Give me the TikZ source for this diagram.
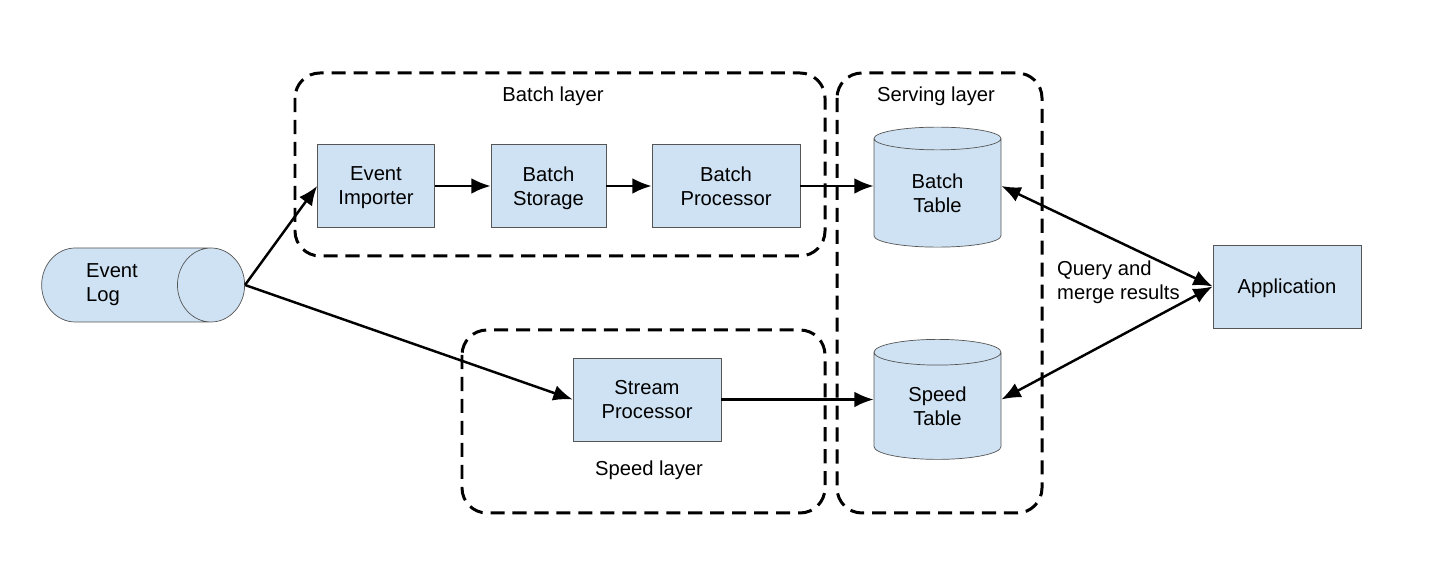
\documentclass[tikz,border=0pt]{standalone}
\usepackage{fontspec}
\setmainfont{Liberation Sans}
\usetikzlibrary{shapes.geometric,arrows.meta}

\definecolor{boxblue}{HTML}{CFE2F3}
\definecolor{boxborder}{HTML}{555555}

\begin{document}
\begin{tikzpicture}[
    font=\fontsize{11.5}{13.6}\selectfont,
    block/.style={rectangle, draw=boxborder, fill=boxblue, align=center,
                  minimum width=2.96cm, minimum height=1.66cm, inner sep=0pt,
                  text depth=0pt},
    store/.style={cylinder, shape border rotate=90, draw=boxborder, fill=boxblue,
                  align=center, minimum width=2.54cm, minimum height=2.4cm,
                  aspect=0.44, inner sep=0pt},
    logstore/.style={cylinder, draw=boxborder, fill=boxblue, align=left,
                     minimum width=1.48cm, minimum height=4.06cm,
                     aspect=1.6, inner sep=0pt, text width=1.6cm},
    layer/.style={draw, line width=1.7pt, dash pattern=on 8pt off 4.5pt,
                  rounded corners=0.5cm},
    flow/.style={-{Latex[length=11pt,width=9pt]}, line width=1.4pt},
    both/.style={{Latex[length=11pt,width=9pt]}-{Latex[length=11pt,width=9pt]},
                 line width=1.4pt},
    lbl/.style={font=\fontsize{11.5}{13.6}\selectfont},
]
\useasboundingbox (0,0) rectangle (28.72,11.24);

% --- Layer frames ---
\draw[layer] (5.9,9.78) rectangle (16.5,6.12);
\draw[layer] (9.24,4.64) rectangle (16.5,0.98);
\draw[layer] (16.74,9.78) rectangle (20.84,0.98);
\node[lbl] (blayer) at (11.06,9.32) {Batch layer};
\node[lbl] (slayer) at (12.98,1.84) {Speed layer};
\node[lbl] (vlayer) at (18.72,9.32) {Serving layer};

% --- Source ---
\node[logstore, anchor=east] (elog) at (4.9,5.54) {Event\\Log};

% --- Batch layer ---
\node[block, minimum width=2.34cm] (imp) at (7.52,7.52) {Event\\Importer};
\node[block, minimum width=2.3cm] (bstore) at (10.97,7.52) {Batch\\Storage};
\node[block] (bproc) at (14.52,7.52) {Batch\\Processor};

% --- Speed layer ---
\node[block] (sproc) at (12.94,3.25) {Stream\\Processor};

% --- Serving layer ---
\node[store] (btab) at (18.75,7.38) {Batch\\Table};
\node[store] (stab) at (18.75,3.12) {Speed\\Table};

% --- Application ---
\node[block] (app) at (25.74,5.51) {Application};
\node[lbl, align=left, anchor=west] (query) at (21.02,5.6) {Query and\\merge results};

% --- Connections ---
\draw[flow] (elog.east) -- (imp.west);
\draw[flow] (elog.east) -- (sproc.west);
\draw[flow] (imp) -- (bstore);
\draw[flow] (bstore) -- (bproc);
\draw[flow] (bproc.east) -- (bproc.east -| btab.west);
\draw[flow] (sproc.east) -- (sproc.east -| stab.west);
\draw[both] (btab.east |- bproc.east) -- (app.west);
\draw[both] (stab.east |- sproc.east) -- (app.west);

\end{tikzpicture}
\end{document}
